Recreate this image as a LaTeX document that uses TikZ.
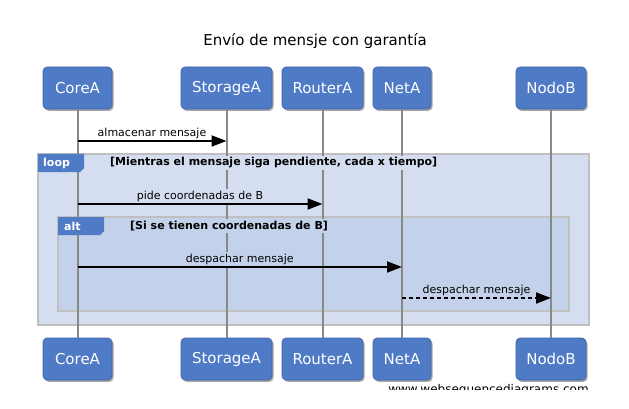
\documentclass[tikz,border=0pt]{standalone}
\usepackage{fontspec}
\setmainfont{DejaVu Sans}
\usetikzlibrary{arrows.meta,shadows}
\definecolor{nodeblue}{RGB}{79,122,198}
\definecolor{nodeedge}{RGB}{62,100,170}
\definecolor{loopfill}{RGB}{213,222,240}
\definecolor{altfill}{RGB}{195,209,234}
\definecolor{frameedge}{RGB}{192,192,192}
\definecolor{lifegray}{RGB}{136,136,136}
\tikzset{
  actor/.style={rectangle, rounded corners=4pt, fill=nodeblue, draw=nodeedge, line width=0.6pt,
    text=white, minimum height=42pt, inner sep=0pt,
    font=\fontsize{15}{18}\selectfont,
    drop shadow={shadow xshift=1.5pt, shadow yshift=-1.8pt, opacity=0.35, fill=black}},
  lifeline/.style={draw=lifegray, line width=2pt},
  msg/.style={draw=black, line width=1.8pt, -{Triangle[length=15pt,width=11pt]}},
  msgdash/.style={msg, dash pattern=on 4pt off 3pt},
  msglabel/.style={font=\fontsize{11}{13}\selectfont, above, inner xsep=1pt, inner ysep=1.5pt, midway},
  frame/.style={draw=frameedge, line width=1.8pt},
  tagtext/.style={font=\bfseries\fontsize{11}{13}\selectfont, text=white, inner sep=0pt, anchor=west},
  guard/.style={font=\bfseries\fontsize{11}{13}\selectfont, inner xsep=1pt, inner ysep=2pt, anchor=west},
  title/.style={font=\fontsize{15}{18}\selectfont, inner sep=0pt}
}
\begin{document}
\begin{tikzpicture}[x=1pt,y=-1pt]
\useasboundingbox (0,0) rectangle (629,409);
\fill[white] (0,0) rectangle (629,409);

\node[title] (title) at (315,41) {Envío de mensje con garantía};

% top participants
\node[actor, minimum width=69pt] (coreT) at (77.5,88) {CoreA};
\node[actor, minimum width=91pt] (storT) at (226.5,88) {StorageA};
\node[actor, minimum width=81pt] (routT) at (322.5,88) {RouterA};
\node[actor, minimum width=58pt] (netT) at (402,88) {NetA};
\node[actor, minimum width=70pt] (nodoT) at (551,88) {NodoB};

% bottom participants
\node[actor, minimum width=69pt] (coreB) at (77.5,359) {CoreA};
\node[actor, minimum width=91pt] (storB) at (226.5,359) {StorageA};
\node[actor, minimum width=81pt] (routB) at (322.5,359) {RouterA};
\node[actor, minimum width=58pt] (netB) at (402,359) {NetA};
\node[actor, minimum width=70pt] (nodoB) at (551,359) {NodoB};

% frames
\draw[frame, fill=loopfill] (38,154) rectangle (589,325);
\draw[frame, fill=altfill] (58,217) rectangle (569,311);

% lifelines
\draw[lifeline] (coreT.south) -- (coreB.north);
\draw[lifeline] (storT.south) -- (storB.north);
\draw[lifeline] (routT.south) -- (routB.north);
\draw[lifeline] (netT.south) -- (netB.north);
\draw[lifeline] (nodoT.south) -- (nodoB.north);

% frame tags and guards
\fill[nodeblue] (38,154) -- (84,154) -- (84,168) -- (80,172) -- (38,172) -- cycle;
\node[tagtext] (looptag) at (43,163) {loop};
\node[guard, fill=loopfill] (loopguard) at (109,163) {[Mientras el mensaje siga pendiente, cada x tiempo]};

\fill[nodeblue] (58,217) -- (104,217) -- (104,231) -- (100,235) -- (58,235) -- cycle;
\node[tagtext] (alttag) at (64,226) {alt};
\node[guard, fill=altfill] (altguard) at (129,226) {[Si se tienen coordenadas de B]};

% message end points
\coordinate (m1s) at (coreT.south |- 0,141);
\coordinate (m1e) at (storT.south |- 0,141);
\coordinate (m2s) at (coreT.south |- 0,204);
\coordinate (m2e) at (routT.south |- 0,204);
\coordinate (m3s) at (coreT.south |- 0,267);
\coordinate (m3e) at (netT.south |- 0,267);
\coordinate (m4s) at (netT.south |- 0,298);
\coordinate (m4e) at (nodoT.south |- 0,298);

\draw[msg] (m1s) -- (m1e) node[msglabel] (l1) {almacenar mensaje};
\draw[msg] (m2s) -- (m2e) node[msglabel, fill=loopfill] (l2) {pide coordenadas de B};
\draw[msg] (m3s) -- (m3e) node[msglabel, fill=altfill] (l3) {despachar mensaje};
\draw[msgdash] (m4s) -- (m4e) node[msglabel, fill=altfill] (l4) {despachar mensaje};

% watermark (clipped as in the reference)
\begin{scope}
\clip (370,381) rectangle (610,389.5);
\node[font=\fontsize{12}{14}\selectfont, inner sep=0pt, anchor=base] (wm) at (488.5,393) {www.websequencediagrams.com};
\end{scope}
\end{tikzpicture}
\end{document}
